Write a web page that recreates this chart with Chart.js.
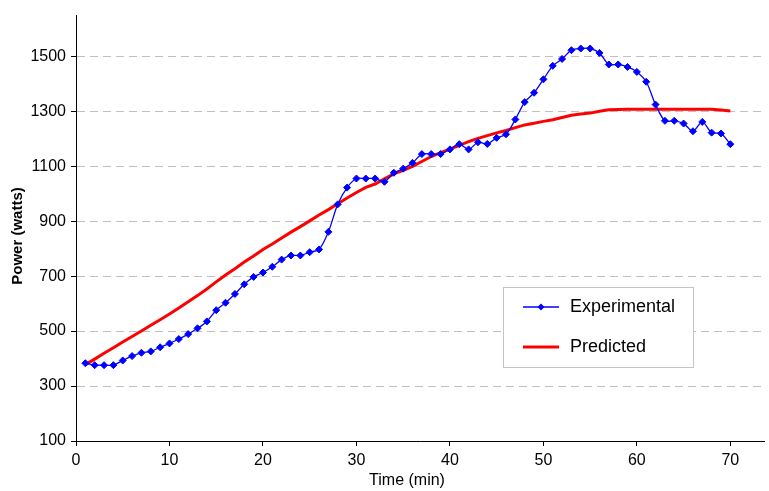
<!DOCTYPE html>
<html>
<head>
<meta charset="utf-8">
<title>Power vs time</title>
<script src="https://cdn.jsdelivr.net/npm/chart.js@4/dist/chart.umd.min.js"></script>
<style>
  html, body { margin: 0; padding: 0; background: #fff; }
  #powerChart { display: block; }
</style>
</head>
<body>
<canvas id="powerChart" width="769" height="491"></canvas>
<script>
// Temps (min)
const times = [
  1, 2, 3, 4, 5, 6, 7, 8, 9, 10,
  11, 12, 13, 14, 15, 16, 17, 18, 19, 20,
  21, 22, 23, 24, 25, 26, 27, 28, 29, 30,
  31, 32, 33, 34, 35, 36, 37, 38, 39, 40,
  41, 42, 43, 44, 45, 46, 47, 48, 49, 50,
  51, 52, 53, 54, 55, 56, 57, 58, 59, 60,
  61, 62, 63, 64, 65, 66, 67, 68, 69, 70
];

// Puissance mesurée (watts)
const experimental = [
  383, 376, 376, 376, 393, 409, 421, 426, 441, 455,
  471, 489, 510, 535, 576, 603, 635, 670, 697, 713,
  734, 760, 775, 775, 787, 797, 861, 961, 1022, 1055,
  1055, 1055, 1043, 1076, 1091, 1112, 1144, 1144, 1144, 1161,
  1180, 1161, 1187, 1181, 1203, 1216, 1270, 1333, 1367, 1416,
  1465, 1490, 1522, 1528, 1528, 1512, 1470, 1470, 1461, 1443,
  1407, 1324, 1265, 1265, 1255, 1227, 1261, 1222, 1219, 1180
];

// Puissance calculée par le modèle (watts)
const predicted = [
  378, 398, 419, 439, 460, 480, 500, 521, 541, 562,
  584, 607, 629, 653, 679, 704, 727, 751, 773, 797,
  817, 839, 860, 880, 901, 922, 942, 963, 984, 1004,
  1023, 1035, 1054, 1072, 1085, 1099, 1117, 1135, 1149, 1162,
  1176, 1189, 1201, 1211, 1221, 1230, 1240, 1250, 1256, 1263,
  1269, 1277, 1285, 1290, 1293, 1300, 1305, 1306, 1307, 1307,
  1307, 1307, 1307, 1307, 1307, 1307, 1307, 1307, 1304, 1301
];

const xTicks = [0, 10, 20, 30, 40, 50, 60, 70];
const yTicks = [100, 300, 500, 700, 900, 1100, 1300, 1500];

const FONT = "'Liberation Sans', Arial, sans-serif";

// Titres des axes (placés à la main, comme dans Excel)
const axisTitles = {
  id: "axisTitles",
  afterDraw(chart) {
    const ctx = chart.ctx;
    ctx.save();
    ctx.fillStyle = "#000";
    ctx.textAlign = "center";
    ctx.textBaseline = "middle";
    ctx.font = "16px " + FONT;
    ctx.fillText("Time (min)", 407, 481);
    ctx.translate(18, 236);
    ctx.rotate(-Math.PI / 2);
    ctx.font = "bold 15px " + FONT;
    ctx.fillText("Power (watts)", 0, 0);
    ctx.restore();
  }
};

// Légende encadrée dans la zone du graphique
const boxLegend = {
  id: "boxLegend",
  afterDraw(chart) {
    const ctx = chart.ctx;
    const ds = chart.data.datasets;
    const x = 503, y = 287, w = 190, h = 80;
    ctx.save();
    ctx.fillStyle = "#fff";
    ctx.fillRect(x, y, w, h);
    ctx.strokeStyle = "#c4c4c4";
    ctx.lineWidth = 1;
    ctx.strokeRect(x + 0.5, y + 0.5, w, h);

    ds.forEach((d, i) => {
      const ly = y + 20 + i * 40;
      ctx.strokeStyle = d.borderColor;
      ctx.lineWidth = d.borderWidth;
      ctx.beginPath();
      ctx.moveTo(x + 20, ly);
      ctx.lineTo(x + 56, ly);
      ctx.stroke();
      if (d.pointRadius > 0) {
        ctx.fillStyle = d.pointBackgroundColor;
        ctx.beginPath();
        ctx.moveTo(x + 38, ly - 3.5);
        ctx.lineTo(x + 41.5, ly);
        ctx.lineTo(x + 38, ly + 3.5);
        ctx.lineTo(x + 34.5, ly);
        ctx.closePath();
        ctx.fill();
      }
      ctx.fillStyle = "#000";
      ctx.font = "18px " + FONT;
      ctx.textBaseline = "middle";
      ctx.textAlign = "left";
      ctx.fillText(d.label, x + 67, ly);
    });
    ctx.restore();
  }
};

new Chart(document.getElementById("powerChart"), {
  type: "line",
  data: {
    datasets: [
      {
        label: "Experimental",
        data: times.map((t, i) => ({ x: t, y: experimental[i] })),
        borderColor: "#0000ff",
        backgroundColor: "#0000ff",
        pointBackgroundColor: "#0000ff",
        pointBorderColor: "#0000ff",
        borderWidth: 1.3,
        pointStyle: "rectRot",
        pointRadius: 3.5,
        pointBorderWidth: 1,
        tension: 0.3,
        order: 1
      },
      {
        label: "Predicted",
        data: times.map((t, i) => ({ x: t, y: predicted[i] })),
        borderColor: "#ff0000",
        backgroundColor: "#ff0000",
        pointBackgroundColor: "#ff0000",
        borderWidth: 3,
        pointRadius: 0,
        tension: 0,
        order: 2
      }
    ]
  },
  options: {
    responsive: false,
    animation: false,
    layout: { padding: { top: 15, right: 1, left: 0, bottom: 0 } },
    plugins: {
      legend: { display: false },
      tooltip: { enabled: false }
    },
    scales: {
      x: {
        type: "linear",
        min: 0,
        max: 73.6,
        afterBuildTicks: (scale) => { scale.ticks = xTicks.map(v => ({ value: v })); },
        afterFit: (scale) => { scale.height = 50; },
        grid: {
          drawOnChartArea: false,
          drawTicks: true,
          tickLength: 5,
          tickColor: "#000"
        },
        border: { color: "#000", width: 1 },
        ticks: {
          color: "#000",
          font: { family: FONT, size: 16 },
          padding: 5,
          maxRotation: 0,
          callback: (v) => String(v)
        }
      },
      y: {
        min: 100,
        max: 1650,
        afterBuildTicks: (scale) => { scale.ticks = yTicks.map(v => ({ value: v })); },
        afterFit: (scale) => { scale.width = 76; },
        grid: {
          color: "#c0c0c0",
          drawTicks: true,
          tickLength: 5,
          tickColor: "#000",
          tickBorderDash: []
        },
        border: { color: "#000", width: 1, dash: [8, 5] },
        ticks: {
          color: "#000",
          font: { family: FONT, size: 16 },
          padding: 5,
          callback: (v) => String(v)
        }
      }
    }
  },
  plugins: [boxLegend, axisTitles]
});
</script>
</body>
</html>
